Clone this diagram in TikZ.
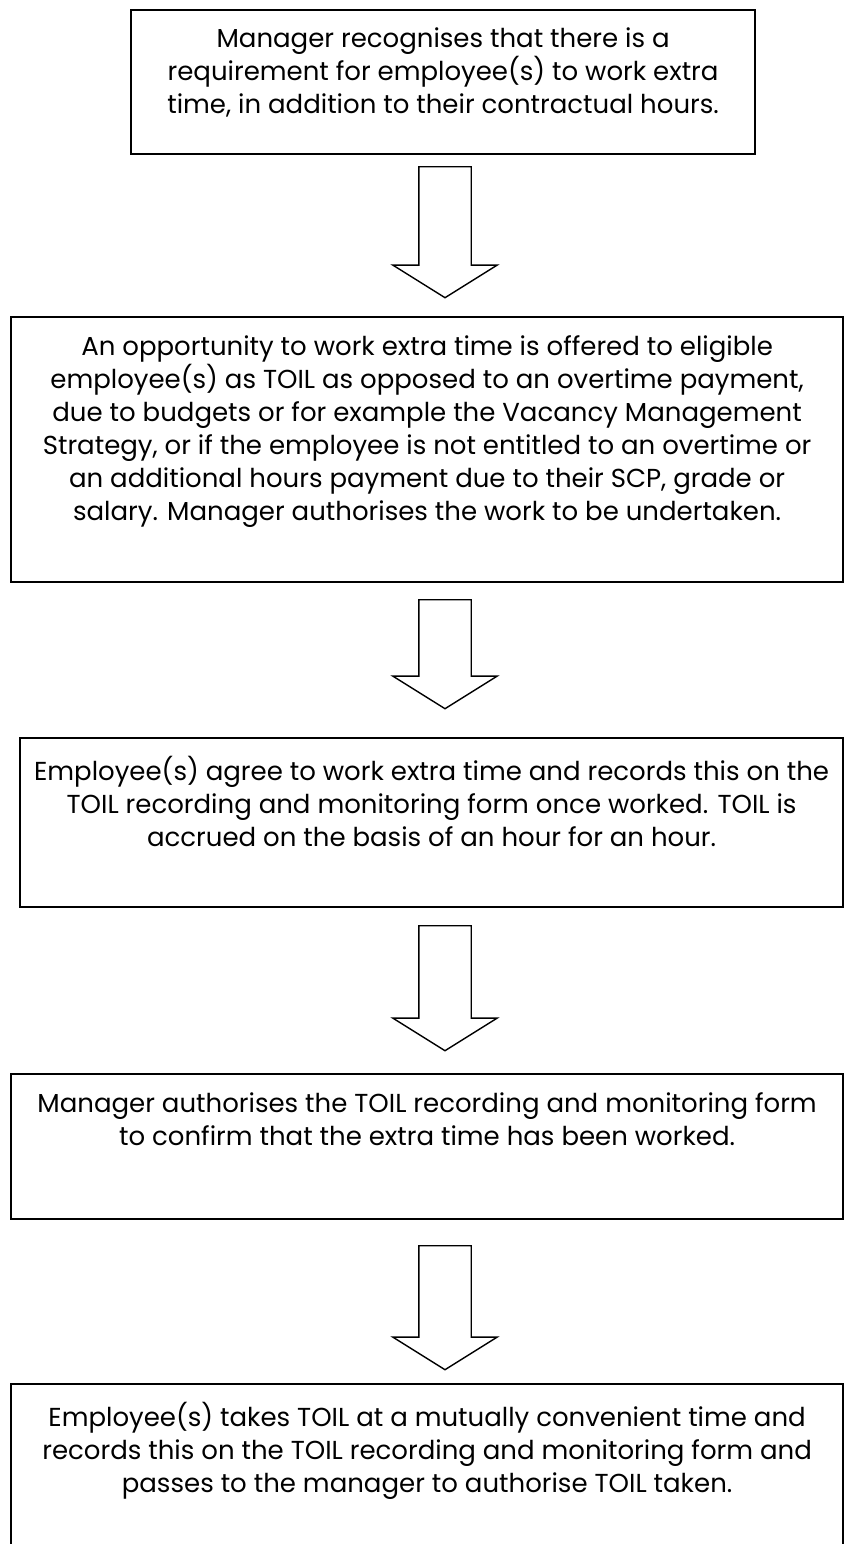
\documentclass[tikz,border=0pt]{standalone}
\usepackage{fontspec}
\setmainfont{Poppins}
\usetikzlibrary{positioning,shapes.arrows}

\begin{document}
\begin{tikzpicture}[
  x=1pt, y=-1pt,
  stepbox/.style={draw, line width=2.2pt, anchor=north west, inner sep=0pt},
  steptext/.style={align=center, inner sep=0pt, font=\fontsize{26}{33}\selectfont},
  downarrow/.style={draw, line width=1.4pt, single arrow, rotate=-90, anchor=tail, inner xsep=0pt, inner ysep=25.5pt,
    single arrow head extend=26pt, single arrow tip angle=116, single arrow head indent=0pt}
]
\useasboundingbox (0,0) rectangle (843,1544);

\node[stepbox, minimum width=624pt, minimum height=144pt] (b1) at (130,9) {};
\node[stepbox, minimum width=832pt, minimum height=265pt] (b2) at (10,316) {};
\node[stepbox, minimum width=823pt, minimum height=169pt] (b3) at (19,737) {};
\node[stepbox, minimum width=832pt, minimum height=145pt] (b4) at (10,1073) {};
\node[stepbox, minimum width=832pt, minimum height=220pt] (b5) at (10,1383) {};

\node[steptext, below=19pt of b1.north] (t1) {Manager recognises that there is a\\requirement for employee(s) to work extra\\time, in addition to their contractual hours.};
\node[steptext, below=19pt of b2.north] (t2) {An opportunity to work extra time is offered to eligible\\employee(s) as TOIL as opposed to an overtime payment,\\due to budgets or for example the Vacancy Management\\Strategy, or if the employee is not entitled to an overtime or\\an additional hours payment due to their SCP, grade or\\salary. Manager authorises the work to be undertaken.};
\node[steptext, below=19pt of b3.north] (t3) {Employee(s) agree to work extra time and records this on the\\TOIL recording and monitoring form once worked. TOIL is\\accrued on the basis of an hour for an hour.};
\node[steptext, below=19pt of b4.north] (t4) {Manager authorises the TOIL recording and monitoring form\\to confirm that the extra time has been worked.};
\node[steptext, below=19pt of b5.north] (t5) {Employee(s) takes TOIL at a mutually convenient time and\\records this on the TOIL recording and monitoring form and\\passes to the manager to authorise TOIL taken.};

\node[downarrow, minimum height=131pt] (a1) at (445,166) {};
\node[downarrow, minimum height=109pt] (a2) at (445,599) {};
\node[downarrow, minimum height=125pt] (a3) at (445,925) {};
\node[downarrow, minimum height=124pt] (a4) at (445,1245) {};
\end{tikzpicture}
\end{document}
